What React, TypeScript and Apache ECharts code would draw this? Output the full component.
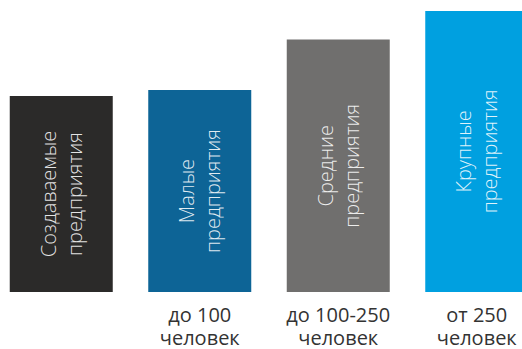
import React, { useEffect, useRef } from "react";
import * as echarts from "echarts";

const categories = ["", "до 100\nчеловек", "до 100-250\nчеловек", "от 250\nчеловек"];
const barNames = ["Создаваемые\nпредприятия", "Малые\nпредприятия", "Средние\nпредприятия", "Крупные\nпредприятия"];
const values = [198, 204, 255, 284];
const colors = ["#2b2a29", "#0d6496", "#706f6e", "#00a0e0"];

export default function App() {
  const ref = useRef<HTMLDivElement>(null);
  useEffect(() => {
    if (!ref.current) return;
    const chart = echarts.init(ref.current, null, { renderer: "svg" });
    chart.setOption({
      animation: false,
      grid: { left: 0, right: 0, top: 0, bottom: 54, containLabel: false },
      xAxis: {
        type: "category",
        data: categories,
        axisLine: { show: false },
        axisTick: { show: false },
        axisLabel: {
          interval: 0,
          margin: 11,
          color: "#333333",
          fontSize: 20,
          lineHeight: 23,
          fontFamily: "Open Sans",
        },
      },
      yAxis: { type: "value", min: 0, max: 295, show: false },
      series: [
        {
          type: "bar",
          barWidth: 103,
          data: values.map((v, i) => ({
            value: v,
            name: barNames[i],
            itemStyle: { color: colors[i] },
          })),
          label: {
            show: true,
            position: "inside",
            rotate: 90,
            align: "center",
            verticalAlign: "middle",
            formatter: (p: any) => barNames[p.dataIndex],
            color: "rgba(255,255,255,0.88)",
            fontSize: 20,
            lineHeight: 26,
            fontWeight: 300,
            fontFamily: "Open Sans",
          },
        },
      ],
    });
    return () => chart.dispose();
  }, []);
  return (
    <div
      style={{ position: "absolute", left: 0, top: 0, width: 522, height: 349, overflow: "hidden", background: "#ffffff" }}
    >
      <div ref={ref} style={{ position: "absolute", left: -8, top: 0, width: 554, height: 349 }} />
    </div>
  );
}
